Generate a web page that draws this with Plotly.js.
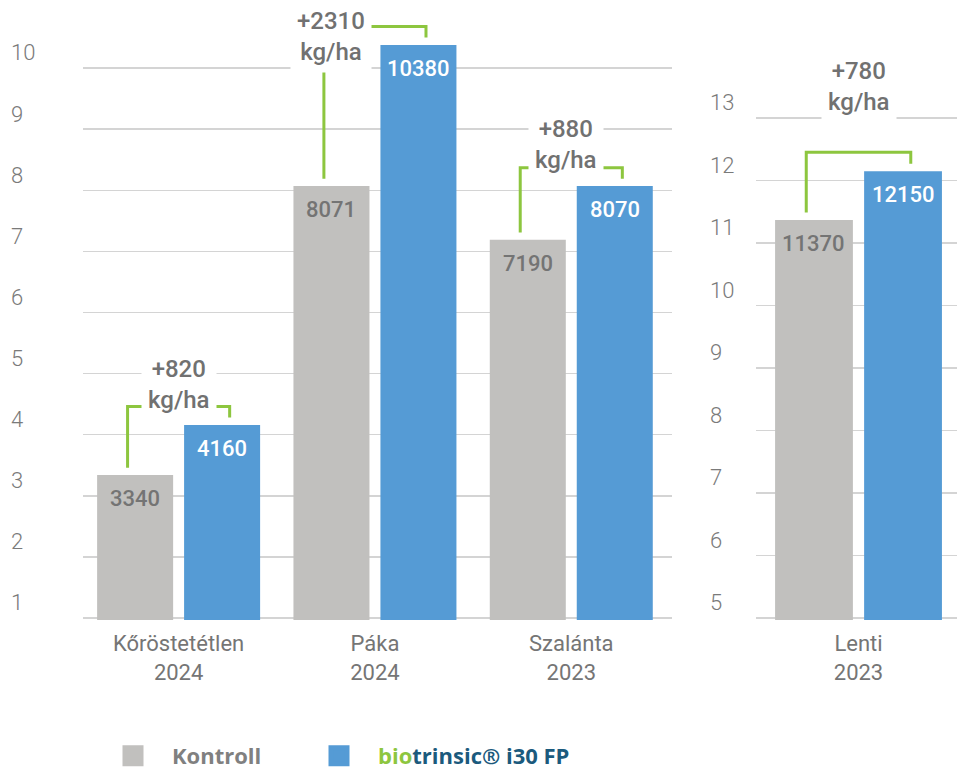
<!DOCTYPE html>
<html>
<head>
<meta charset="utf-8">
<script src="https://cdn.plot.ly/plotly-3.0.1.min.js"></script>
<style>html,body{margin:0;padding:0;background:#fff;} #chart{width:957px;height:771px;}</style>
</head>
<body>
<div id="chart"></div>
<script>
// ---------- data ----------
const categoriesLeft = ['Kőröstetétlen<br>2024', 'Páka<br>2024', 'Szalánta<br>2023'];
const kontrollLeft = [3340, 8071, 7190];
const biotrinsicLeft = [4160, 10380, 8070];

const categoriesRight = ['Lenti<br>2023'];
const kontrollRight = [11370];
const biotrinsicRight = [12150];

const gainLabels = ['+820', '+2310', '+880', '+780'];

const leftTicks = [1, 2, 3, 4, 5, 6, 7, 8, 9, 10];
const rightTicks = [5, 6, 7, 8, 9, 10, 11, 12, 13];

const seriesNames = ['Kontroll', 'biotrinsic® i30 FP'];

// ---------- styles ----------
const GRAY = '#c1c0be';
const BLUE = '#559bd5';
const GREEN = '#8dc63f';
const TXT = '#747474';
const W = 957, H = 771;
const BARGAP = 0.114, GROUPGAP = 0.126;
const half = (1 - BARGAP) / 4;            // offset of each bar center from category center
const bracketX = 0.26, bracketEnd = 0.12, bracketTop = 0.3;
// placement of gain labels relative to their bracket (px)
const gainShift = [{dx: 0, dy: 22}, {dx: -44, dy: -10}, {dx: -5, dy: 23}, {dx: 0, dy: 66}];

const k = v => v / 1000;

const traces = [
  {type: 'bar', x: categoriesLeft, y: kontrollLeft.map(k), marker: {color: GRAY}, xaxis: 'x', yaxis: 'y', showlegend: false, hoverinfo: 'skip'},
  {type: 'bar', x: categoriesLeft, y: biotrinsicLeft.map(k), marker: {color: BLUE}, xaxis: 'x', yaxis: 'y', showlegend: false, hoverinfo: 'skip'},
  {type: 'bar', x: categoriesRight, y: kontrollRight.map(k), marker: {color: GRAY}, xaxis: 'x2', yaxis: 'y2', showlegend: false, hoverinfo: 'skip'},
  {type: 'bar', x: categoriesRight, y: biotrinsicRight.map(k), marker: {color: BLUE}, xaxis: 'x2', yaxis: 'y2', showlegend: false, hoverinfo: 'skip'},
  // legend entries
  {type: 'scatter', mode: 'markers', x: [null], y: [null], name: seriesNames[0], xaxis: 'x', yaxis: 'y',
   legend: 'legend',
   marker: {symbol: 'square', size: 16, color: GRAY, line: {color: GRAY, width: 5}}, hoverinfo: 'skip'},
  {type: 'scatter', mode: 'markers', x: [null], y: [null],
   name: '<span style="color:' + GREEN + '">bio</span><span style="color:#1b5a7d">trinsic® i30 FP</span>',
   xaxis: 'x', yaxis: 'y', legend: 'legend2',
   marker: {symbol: 'square', size: 16, color: BLUE, line: {color: BLUE, width: 5}}, hoverinfo: 'skip'}
];

const shapes = [];
const annotations = [];

function addGroup(i, kv, bv, xr, yr, gi) {
  const yk = k(kv), yb = k(bv);
  const yh = Math.max(yk, yb) + bracketTop;
  shapes.push({type: 'path', xref: xr, yref: yr, layer: 'above',
    path: `M${i - bracketX},${yk + bracketEnd} L${i - bracketX},${yh} L${i + bracketX},${yh} L${i + bracketX},${yb + bracketEnd}`,
    line: {color: GREEN, width: 3}});
  annotations.push({xref: xr, yref: yr, x: i, y: yh, xanchor: 'center', yanchor: 'middle',
    xshift: gainShift[gi].dx, yshift: gainShift[gi].dy, showarrow: false,
    text: gainLabels[gi] + '<br>kg/ha', bgcolor: '#ffffff', borderpad: 6,
    font: {family: 'Roboto', size: 24, weight: 500, color: '#717171'}});
  annotations.push({xref: xr, yref: yr, x: i - half, y: yk, yanchor: 'top', yshift: -9, showarrow: false,
    text: String(kv), font: {family: 'Roboto', size: 22, weight: 500, color: TXT}});
  annotations.push({xref: xr, yref: yr, x: i + half, y: yb, yanchor: 'top', yshift: -9, showarrow: false,
    text: String(bv), font: {family: 'Roboto', size: 22, weight: 500, color: '#ffffff'}});
}
kontrollLeft.forEach((v, i) => addGroup(i, v, biotrinsicLeft[i], 'x', 'y', i));
kontrollRight.forEach((v, i) => addGroup(i, v, biotrinsicRight[i], 'x2', 'y2', 3 + i));

const bottomPx = 620, topPx = 0;
const yDomain = [(H - bottomPx) / H, (H - topPx) / H];
const plotH = bottomPx - topPx;
const sL = 61.1, sR = 62.5;          // px per 1000 kg/ha
const r0L = 1 - 2 / sL, r0R = 5 - 2 / sR;

const tickFont = {family: 'Roboto', size: 22, weight: 300, color: '#7a7a7a'};
const catFont = {family: 'Roboto', size: 22, weight: 400, color: '#757575'};
const legendFont = {family: 'Open Sans', size: 22, weight: 700, color: '#808080'};

const layout = {
  width: W, height: H,
  margin: {l: 0, r: 0, t: 0, b: 0, autoexpand: false},
  paper_bgcolor: '#ffffff', plot_bgcolor: '#ffffff',
  barmode: 'group', bargap: BARGAP, bargroupgap: GROUPGAP,
  showlegend: true,
  legend: {orientation: 'h', x: 94 / W, xanchor: 'left', y: 15 / H, yanchor: 'middle',
    font: legendFont, itemwidth: 68, bgcolor: 'rgba(0,0,0,0)'},
  legend2: {orientation: 'h', x: 300 / W, xanchor: 'left', y: 15 / H, yanchor: 'middle',
    font: legendFont, itemwidth: 68, bgcolor: 'rgba(0,0,0,0)'},
  xaxis: {domain: [83 / W, 672 / W], anchor: 'y', type: 'category', range: [-0.487, 2.513],
    showgrid: false, zeroline: false, showline: false, ticks: '', tickfont: catFont, ticklabelstandoff: 8},
  yaxis: {domain: yDomain, anchor: 'free', position: 7 / W, range: [r0L, r0L + plotH / sL],
    tickvals: leftTicks, ticktext: leftTicks.map(String), ticklabelposition: 'inside top', ticklabeloverflow: 'allow',
    showgrid: true, gridcolor: '#d4d4d4', gridwidth: 1.5, zeroline: false, showline: false, ticks: '', tickfont: tickFont},
  xaxis2: {domain: [756 / W, 1], anchor: 'y2', type: 'category', range: [-0.51, 0.49],
    showgrid: false, zeroline: false, showline: false, ticks: '', tickfont: catFont, ticklabelstandoff: 8},
  yaxis2: {domain: yDomain, anchor: 'free', position: 706 / W, range: [r0R, r0R + plotH / sR],
    tickvals: rightTicks, ticktext: rightTicks.map(String), ticklabelposition: 'inside top', ticklabeloverflow: 'allow',
    showgrid: true, gridcolor: '#d4d4d4', gridwidth: 1.5, zeroline: false, showline: false, ticks: '', tickfont: tickFont},
  shapes: shapes,
  annotations: annotations
};

Plotly.newPlot('chart', traces, layout, {displayModeBar: false, staticPlot: true});
</script>
</body>
</html>
